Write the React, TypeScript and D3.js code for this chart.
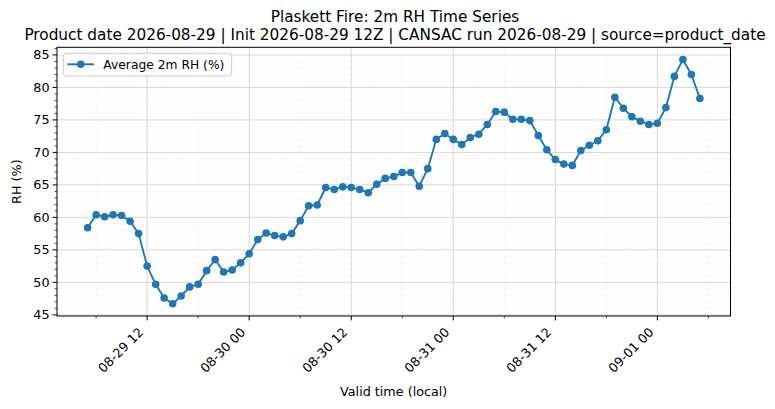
import * as d3 from "d3";

// hourly average 2m RH, local valid time starting 2026-08-29 05:00
const START_TIME = "2026-08-29T05:00:00";
const rhValues = [
  58.4, 60.4, 60.1, 60.4, 60.3, 59.4, 57.5, 52.5, 49.7, 47.6,
  46.7, 47.9, 49.3, 49.7, 51.8, 53.5, 51.6, 51.9, 53.0, 54.4,
  56.6, 57.6, 57.2, 57.0, 57.5, 59.5, 61.8, 61.9, 64.6, 64.3,
  64.7, 64.6, 64.3, 63.8, 65.1, 66.0, 66.3, 66.9, 66.9, 64.8,
  67.5, 72.0, 72.9, 72.0, 71.2, 72.3, 72.8, 74.3, 76.3, 76.2,
  75.1, 75.1, 74.9, 72.6, 70.4, 68.9, 68.2, 68.0, 70.3, 71.1,
  71.8, 73.5, 78.5, 76.8, 75.5, 74.8, 74.3, 74.5, 76.9, 81.7,
  84.3, 82.0, 78.3,
];
const yTicks = [45, 50, 55, 60, 65, 70, 75, 80, 85];
const titleLines = [
  "Plaskett Fire: 2m RH Time Series",
  "Product date 2026-08-29 | Init 2026-08-29 12Z | CANSAC run 2026-08-29 | source=product_date",
];
const legendLabel = "Average 2m RH (%)";
const xLabel = "Valid time (local)";
const yLabel = "RH (%)";

const W = 775;
const H = 409;
const margin = { top: 47.3, right: 44.5, bottom: 93, left: 57 };
const color = "#1f77b4";
const font = "DejaVu Sans, sans-serif";

export default function App() {
  const start = new Date(START_TIME);
  const data = rhValues.map((v, i) => ({ date: d3.timeHour.offset(start, i), value: v }));

  const innerW = W - margin.left - margin.right;
  const innerH = H - margin.top - margin.bottom;

  // matplotlib-style 5% padding
  const [t0, t1] = d3.extent(data, (d) => d.date) as [Date, Date];
  const tPad = (t1.getTime() - t0.getTime()) * 0.05;
  const x = d3
    .scaleTime()
    .domain([new Date(t0.getTime() - tPad), new Date(t1.getTime() + tPad)])
    .range([0, innerW]);

  const [v0, v1] = d3.extent(data, (d) => d.value) as [number, number];
  const vPad = (v1 - v0) * 0.05;
  const y = d3.scaleLinear().domain([v0 - vPad, v1 + vPad]).range([innerH, 0]);

  const xDom = x.domain();
  const xMajor = d3.timeHour.every(12)!.range(xDom[0], xDom[1]);
  const xMinor = d3.timeHour
    .every(6)!
    .range(xDom[0], xDom[1])
    .filter((d) => d.getHours() % 12 !== 0);
  const yMinor = d3.range(Math.ceil(y.domain()[0]), Math.floor(y.domain()[1]) + 1).filter((v) => v % 5 !== 0);

  const line = d3
    .line<{ date: Date; value: number }>()
    .x((d) => x(d.date))
    .y((d) => y(d.value));

  const fmt = d3.timeFormat("%m-%d %H");

  return (
    <svg
      width={W}
      height={H}
      style={{ position: "absolute", left: 0, top: 0, background: "white" }}
      fontFamily={font}
    >
      {/* titles */}
      <text x={395} y={21.5} textAnchor="middle" fontSize={15.3} fill="#000">
        {titleLines[0]}
      </text>
      <text x={395} y={39.5} textAnchor="middle" fontSize={15.3} fill="#000">
        {titleLines[1]}
      </text>

      <g transform={`translate(${margin.left},${margin.top})`}>
        {/* minor grid */}
        {yMinor.map((v) => (
          <line key={"ym" + v} x1={0} x2={innerW} y1={y(v)} y2={y(v)} stroke="#e3e3e3" strokeWidth={0.6} strokeDasharray="1,1.6" />
        ))}
        {xMinor.map((d) => (
          <line key={"xm" + d.getTime()} x1={x(d)} x2={x(d)} y1={0} y2={innerH} stroke="#e3e3e3" strokeWidth={0.6} strokeDasharray="1,1.6" />
        ))}
        {/* major grid */}
        {yTicks.map((v) => (
          <line key={"yg" + v} x1={0} x2={innerW} y1={y(v)} y2={y(v)} stroke="#d6d6d6" strokeWidth={1} />
        ))}
        {xMajor.map((d) => (
          <line key={"xg" + d.getTime()} x1={x(d)} x2={x(d)} y1={0} y2={innerH} stroke="#d6d6d6" strokeWidth={1} />
        ))}

        {/* series */}
        <path d={line(data) ?? ""} fill="none" stroke={color} strokeWidth={1.9} strokeLinejoin="round" />
        {data.map((d, i) => (
          <circle key={i} cx={x(d.date)} cy={y(d.value)} r={3.8} fill={color} />
        ))}

        {/* spines */}
        <rect x={0} y={0} width={innerW} height={innerH} fill="none" stroke="#000" strokeWidth={1} />

        {/* y axis */}
        {yTicks.map((v) => (
          <g key={"yt" + v} transform={`translate(0,${y(v)})`}>
            <line x1={-4.4} x2={0} stroke="#000" strokeWidth={1} />
            <text x={-7.5} dy="0.35em" textAnchor="end" fontSize={12.75} fill="#000">
              {v}
            </text>
          </g>
        ))}
        {yMinor.map((v) => (
          <line key={"ymt" + v} x1={-2.5} x2={0} y1={y(v)} y2={y(v)} stroke="#000" strokeWidth={0.7} />
        ))}

        {/* x axis */}
        {xMajor.map((d) => (
          <g key={"xt" + d.getTime()} transform={`translate(${x(d)},${innerH})`}>
            <line y1={0} y2={4.4} stroke="#000" strokeWidth={1} />
            <text
              transform="translate(-3,17) rotate(-45)"
              textAnchor="end"
              fontSize={12.75}
              fill="#000"
            >
              {fmt(d)}
            </text>
          </g>
        ))}
        {xMinor.map((d) => (
          <line key={"xmt" + d.getTime()} x1={x(d)} x2={x(d)} y1={innerH} y2={innerH + 2.5} stroke="#000" strokeWidth={0.7} />
        ))}

        {/* legend */}
        <g transform="translate(6.3,6)">
          <rect x={0} y={0} width={168.4} height={22.7} rx={3} fill="white" fillOpacity={0.8} stroke="#cccccc" strokeWidth={1} />
          <line x1={4} x2={30.7} y1={11} y2={11} stroke={color} strokeWidth={1.9} />
          <circle cx={17.4} cy={11} r={3.8} fill={color} />
          <text x={40} y={11} dy="0.35em" fontSize={12.3} fill="#000">
            {legendLabel}
          </text>
        </g>
      </g>

      {/* axis labels */}
      <text x={393.7} y={396} textAnchor="middle" fontSize={12.75} fill="#000">
        {xLabel}
      </text>
      <text transform={`translate(21,${margin.top + innerH / 2}) rotate(-90)`} textAnchor="middle" fontSize={12.75} fill="#000">
        {yLabel}
      </text>
    </svg>
  );
}
